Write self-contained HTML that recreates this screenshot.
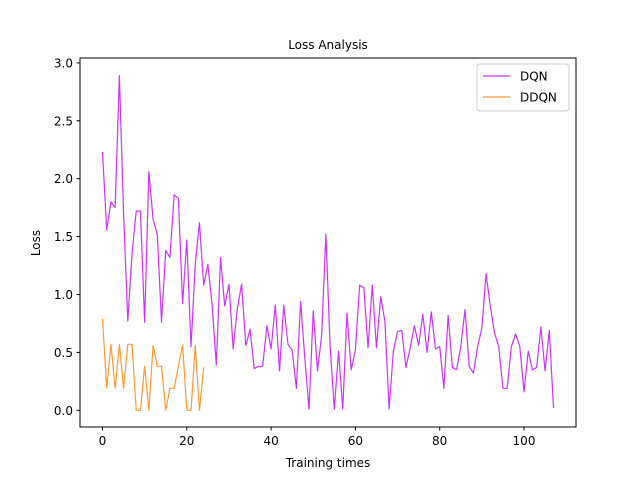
<!DOCTYPE html>
<html><head><meta charset="utf-8"><style>
body{margin:0;background:#fff}
svg text{font-family:"DejaVu Sans","Liberation Sans",sans-serif;fill:#000}
</style></head><body>
<svg id="chart" width="640" height="480">
<rect width="640" height="480" fill="#fff"/>
<text x="328" y="49" font-size="12" text-anchor="middle">Loss Analysis</text>
<g id="ticks"></g>
<g id="lines"></g>
<rect x="80" y="58" width="496" height="369" fill="none" stroke="#000" stroke-width="1"/>
<text x="328" y="467" font-size="12" text-anchor="middle">Training times</text>
<text x="40" y="243" font-size="12" text-anchor="middle" transform="rotate(-90 40 243)">Loss</text>
<g>
<rect x="477" y="64" width="92" height="47" rx="3" fill="#fff" stroke="#ccc" stroke-width="1"/>
<line x1="483" y1="76" x2="510" y2="76" stroke="#cc33ff" stroke-width="1.2"/>
<text x="520" y="80.5" font-size="12">DQN</text>
<line x1="483" y1="97" x2="510" y2="97" stroke="#ff9933" stroke-width="1.2"/>
<text x="520" y="101.5" font-size="12">DDQN</text>
</g>
</svg>
<script>
const dqn=[2.23,1.56,1.80,1.75,2.89,1.70,0.77,1.35,1.72,1.72,0.76,2.06,1.65,1.52,0.76,1.38,1.32,1.86,1.83,0.92,1.47,0.55,1.26,1.62,1.08,1.26,0.91,0.39,1.32,0.90,1.09,0.53,0.88,1.09,0.56,0.70,0.36,0.38,0.38,0.73,0.53,0.91,0.34,0.91,0.57,0.52,0.19,0.94,0.45,0.01,0.86,0.34,0.65,1.52,0.55,0.01,0.51,0.01,0.84,0.35,0.52,1.08,1.06,0.54,1.08,0.54,0.98,0.77,0.01,0.51,0.68,0.69,0.37,0.54,0.73,0.56,0.83,0.50,0.85,0.53,0.55,0.19,0.82,0.37,0.35,0.55,0.87,0.38,0.32,0.55,0.71,1.18,0.90,0.67,0.55,0.19,0.19,0.55,0.66,0.55,0.16,0.51,0.35,0.37,0.72,0.34,0.69,0.02];
const ddqn=[0.79,0.19,0.57,0.19,0.57,0.19,0.57,0.57,0.0,0.0,0.38,0.0,0.56,0.38,0.38,0.0,0.19,0.19,0.38,0.56,0.0,0.0,0.56,0.0,0.37];
const xTicks=[0,20,40,60,80,100];
const yTicks=[0.0,0.5,1.0,1.5,2.0,2.5,3.0];
const NS="http://www.w3.org/2000/svg";
const xs=v=>102.5+v*4.215;
const ys=v=>410.3-v*115.8;
const tg=document.getElementById('ticks'),lg=document.getElementById('lines');
function mk(t,a,p){const e=document.createElementNS(NS,t);for(const k in a)e.setAttribute(k,a[k]);p.appendChild(e);return e;}
xTicks.forEach(v=>{
 const l=mk('line',{x1:xs(v),x2:xs(v),y1:427,y2:430.5,stroke:'#000'},tg);
 
 
 const t=mk('text',{x:xs(v),y:445,'font-size':12,'text-anchor':'middle'},tg);t.textContent=v;
 
 
});
yTicks.forEach(v=>{
 const l=mk('line',{x1:76.5,x2:80,y1:ys(v),y2:ys(v),stroke:'#000'},tg);
 
 
 const t=mk('text',{x:73,y:ys(v)+4.5,'font-size':12,'text-anchor':'end'},tg);t.textContent=v.toFixed(1);
 
 
});
function line(d,c,name){
 const p=mk('polyline',{points:d.map((v,i)=>xs(i)+','+ys(v)).join(' '),fill:'none',stroke:c,'stroke-width':1.2,'stroke-linejoin':'round'},lg);
 
 
}
line(dqn,'#cc33ff','dqn-line');
line(ddqn,'#ff9933','ddqn-line');
</script>
</body></html>
